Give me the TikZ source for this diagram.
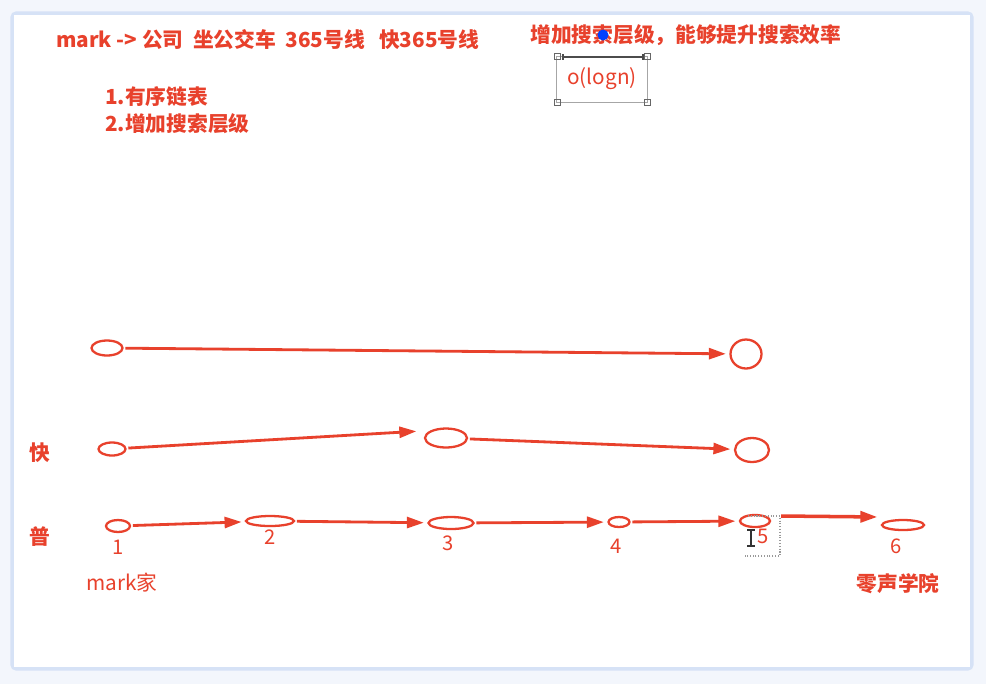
\documentclass[tikz,border=0pt]{standalone}
\usepackage{fontspec}
\setmainfont{Noto Sans CJK SC}
\usetikzlibrary{arrows.meta,shapes.geometric}
\definecolor{inkred}{HTML}{E8412C}
\definecolor{framebl}{HTML}{D6E2F6}
\definecolor{pagebg}{HTML}{F3F6FC}
\tikzset{
  stop/.style={ellipse, draw=inkred, line width=1.3pt, inner sep=0pt},
  hop/.style={-{Triangle[length=0.34cm,width=0.22cm]}, draw=inkred, line width=1.6pt, shorten >=2pt, shorten <=1pt},
  say/.style={text=inkred, font=\fontsize{11.8}{14}\selectfont\bfseries, inner sep=0pt},
  num/.style={text=inkred, font=\fontsize{11.5}{12}\selectfont, inner sep=0pt}
}
\begin{document}
\begin{tikzpicture}[x=0.02cm, y=-0.02cm]
			%%%%% FRAME %%%%%
			\fill[pagebg] (0, 0) rectangle (986, 684);
			\draw[framebl, line width=3pt, rounded corners=2pt] (13, 14) rectangle (971, 668);
			\fill[white] (14, 15) rectangle (970, 667);

			%%%%% TEXTS %%%%%
			\node[say, anchor=west] (title) at (56, 40) {mark -> 公司 \ 坐公交车 \ 365号线 \ \ 快365号线};
			\node[say, anchor=west] (goal) at (530, 35) {增加搜索层级，能够提升搜索效率};
			\fill[blue!75!cyan] (603, 35) circle (5.5);
			\node[say, anchor=west] (item1) at (105, 97) {1.有序链表};
			\node[say, anchor=west] (item2) at (105, 124) {2.增加搜索层级};

			\node[say, font=\fontsize{11.8}{14}\selectfont, draw=black!35, line width=0.5pt, minimum width=1.82cm, minimum height=0.92cm] (cost) at (602, 79) {o(logn)};
			\draw[black!70, line width=1.2pt] (563, 57) -- (643, 57);
			\draw[black!70, line width=0.6pt] (563, 54) -- (563, 60);
			\draw[black!70, line width=0.6pt] (643, 54) -- (643, 60);
			\foreach \cx/\cy in {557/56, 647/56, 557/102, 647/102}
				\draw[black!60, line width=0.5pt] (\cx-3, \cy-3) rectangle (\cx+3, \cy+3);

			\node[say] (fast) at (40, 453) {快};
			\node[say] (slow) at (40, 537) {普};

			%%%%% TOP LAYER %%%%%
			\node[stop, minimum width=0.62cm, minimum height=0.3cm] (t1) at (107, 348) {};
			\node[stop, minimum width=0.62cm, minimum height=0.58cm] (t5) at (746, 354) {};
			\draw[hop] (t1) -- (t5);

			%%%%% MIDDLE LAYER %%%%%
			\node[stop, minimum width=0.54cm, minimum height=0.26cm] (m1) at (112, 449) {};
			\node[stop, minimum width=0.84cm, minimum height=0.38cm] (m3) at (446, 438) {};
			\node[stop, minimum width=0.68cm, minimum height=0.48cm] (m5) at (752, 450) {};
			\draw[hop, shorten >=8pt] (m1) -- (m3.north west);
			\draw[hop] (m3) -- (m5);

			%%%%% BOTTOM LAYER %%%%%
			\node[stop, minimum width=0.48cm, minimum height=0.24cm] (b1) at (118, 526) {};
			\node[stop, minimum width=0.96cm, minimum height=0.2cm] (b2) at (270, 521) {};
			\node[stop, minimum width=0.9cm, minimum height=0.24cm] (b3) at (451, 523) {};
			\node[stop, minimum width=0.42cm, minimum height=0.2cm] (b4) at (619, 522) {};
			\node[stop, minimum width=0.6cm, minimum height=0.24cm] (b5) at (755, 521) {};
			\node[stop, minimum width=0.84cm, minimum height=0.2cm] (b6) at (903, 525) {};
			\draw[hop] (b1) -- (b2);
			\draw[hop] (b2) -- (b3);
			\draw[hop] (b3) -- (b4);
			\draw[hop] (b4) -- (b5);
			\draw[hop, line width=2pt, shorten <=0pt, shorten >=2pt] ([xshift=0.2cm, yshift=0.1cm]b5.east) -- ([yshift=0.16cm]b6.west);

			\node[num] (n1) at (118, 547) {1};
			\node[num] (n2) at (270, 537) {2};
			\node[num] (n3) at (448, 543) {3};
			\node[num] (n4) at (616, 546) {4};
			\node[num] (n5) at (763, 536) {5};
			\node[num] (n6) at (896, 546) {6};

			% cursor and selection marks round 5
			\draw[black!40, densely dotted, line width=0.6pt] (748, 516) -- (780, 516) -- (780, 556) -- (745, 556);
			\draw[black!80, line width=0.9pt] (751, 530) -- (751, 546);
			\draw[black!80, line width=0.7pt] (747, 530) -- (755, 530);
			\draw[black!80, line width=0.7pt] (747, 546) -- (755, 546);

			\node[say, font=\fontsize{11.8}{14}\selectfont] (home) at (122, 583) {mark家};
			\node[say] (school) at (898, 584) {零声学院};
			%%%%% END %%%%%
\end{tikzpicture}
\end{document}
